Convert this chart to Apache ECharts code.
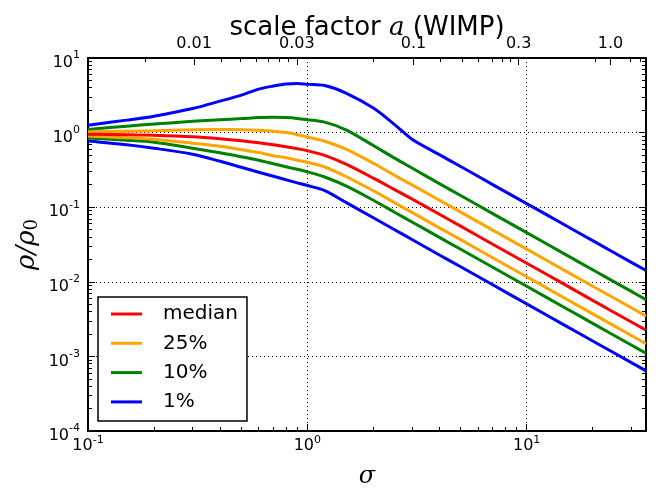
<!DOCTYPE html>
<html><head><meta charset="utf-8">
<script src="https://cdn.jsdelivr.net/npm/echarts@6/dist/echarts.min.js"></script>
<style>html,body{margin:0;padding:0;background:#fff}#c{width:663px;height:489px}</style>
</head><body><div id="c"></div>
<script>
// ---- data ----
const sigma = [0.1,0.15,0.2,0.3,0.4,0.5,0.6,0.7,0.8,0.9,1.0,1.2,1.5,2,2.5,3,4,5,7,10,15,20,30,35];
const medianVals   = [0.952,0.938,0.923,0.881,0.828,0.778,0.731,0.687,0.646,0.608,0.571,0.495,0.377,0.245,0.172,0.129,0.0803,0.0557,0.0319,0.01773,0.00909,0.00564,0.00289,0.00225];
const p25Upper     = [1.02,1.045,1.06,1.094,1.10,1.094,1.077,1.044,1.0,0.938,0.875,0.766,0.60,0.388,0.267,0.1995,0.124,0.086,0.0492,0.0274,0.0140,0.00873,0.00448,0.00348];
const p25Lower     = [0.903,0.854,0.815,0.721,0.656,0.589,0.54,0.49,0.46,0.426,0.40,0.346,0.258,0.166,0.1148,0.0851,0.0528,0.0367,0.0210,0.01167,0.00598,0.00372,0.00191,0.00148];
const p10Upper     = [1.10,1.22,1.30,1.42,1.49,1.54,1.59,1.60,1.59,1.55,1.49,1.38,1.09,0.67,0.455,0.335,0.207,0.1433,0.0821,0.0456,0.0233,0.0145,0.00743,0.00577];
const p10Lower     = [0.849,0.791,0.743,0.617,0.537,0.474,0.425,0.382,0.348,0.322,0.298,0.254,0.193,0.124,0.0857,0.0634,0.0394,0.0273,0.01567,0.0087,0.00446,0.00277,0.00142,0.0011];
const p1Upper      = [1.257,1.47,1.66,2.10,2.64,3.18,3.83,4.21,4.48,4.54,4.43,4.27,3.39,2.13,1.28,0.815,0.506,0.351,0.201,0.1117,0.0573,0.0356,0.01824,0.01416];
const p1Lower      = [0.773,0.687,0.617,0.513,0.413,0.343,0.294,0.26,0.233,0.212,0.195,0.167,0.116,0.0721,0.0499,0.0369,0.0229,0.0159,0.00912,0.00506,0.00259,0.00161,0.000826,0.00064];

const legendNames = ['median','25%','10%','1%'];
const sigmaMin = 0.1, sigmaMax = 35;
const rhoMinExp = -4, rhoMaxExp = 1;

// top axis (scale factor a) : labels and the sigma where each sits
const topTickLabels = ['0.01','0.03','0.1','0.3','1.0'];
const topTickSigma  = [0.3045,0.895,3.05,9.19,24.1];
const topMinorSigma = [0.182,0.407,0.493,0.582,0.665,0.746,0.820,2.003,4.03,5.07,6.03,6.95,7.72,8.42,20.6,29.7,33.0];
const minorMult = [2,3,4,5,6,7,8,9];

// ---- build ----
const L = Math.log10;
const xMin = L(sigmaMin), xMax = L(sigmaMax);
const xMinor = [];
for (let d = -1; d <= 1; d++) for (const m of minorMult) { const v = d + L(m); if (v > xMin && v < xMax) xMinor.push(v); }
const yMinor = [];
for (let d = rhoMinExp; d < rhoMaxExp; d++) for (const m of minorMult) yMinor.push(d + L(m));
const topMajor = topTickSigma.map(L);
const topMinor = topMinorSigma.map(L);

const pts = arr => sigma.map((s, i) => [L(s), L(arr[i])]);
const COLORS = { 'median': '#ff0000', '25%': '#ffa500', '10%': '#008000', '1%': '#0000ff' };
const mk = (name, arr) => ({
  name, type: 'line', data: pts(arr), showSymbol: false, smooth: 0.3,
  xAxisIndex: 0, yAxisIndex: 0, color: COLORS[name],
  lineStyle: { width: 3, color: COLORS[name] }, emphasis: { disabled: true }
});

const supRich = (bPad, sPad) => ({
  b: { fontSize: 16, fontFamily: 'DejaVu Sans', color: '#000', padding: [bPad, 0, 0, 0] },
  s: { fontSize: 11, fontFamily: 'DejaVu Sans', color: '#000', padding: [0, 0, sPad, 0] }
});
const expFmt = v => Math.abs(v - Math.round(v)) < 1e-6 ? '{b|10}{s|' + Math.round(v) + '}' : '';

const black = '#000';
const minorAxisCommon = {
  type: 'value', axisLine: { show: false, onZero: false }, axisLabel: { show: false },
  splitLine: { show: false }
};

const option = {
  animation: false,
  backgroundColor: '#fff',
  grid: { left: 88, right: 17, top: 58, bottom: 58, containLabel: false, outerBoundsMode: 'none' },
  legend: {
    data: legendNames, orient: 'vertical', left: 98, top: 297,
    padding: [7, 9, 9, 13], itemGap: 9.3, itemWidth: 31, itemHeight: 3, icon: 'rect',
    borderColor: black, borderWidth: 1.5, backgroundColor: '#fff', borderRadius: 0,
    textStyle: { fontSize: 20, fontFamily: 'DejaVu Sans', color: black, lineHeight: 20, padding: [0, 0, 0, 16] },
    selectedMode: false
  },
  xAxis: [
    { type: 'value', position: 'bottom', min: xMin, max: xMax, interval: 1,
      axisLine: { show: true, onZero: false, lineStyle: { color: black, width: 2 } },
      axisTick: { show: true, inside: true, length: 7, lineStyle: { color: black, width: 1 } },
      axisLabel: { formatter: expFmt, margin: 1, rich: supRich(6, 5), showMaxLabel: false },
      splitLine: { show: true, lineStyle: { type: [1, 3], color: black, width: 1 } },
      name: 'σ', nameLocation: 'middle', nameGap: 34, nameMoveOverlap: false,
      nameTextStyle: { fontFamily: 'DejaVu Serif', fontStyle: 'italic', fontSize: 24, color: black } },
    Object.assign({}, minorAxisCommon, { position: 'bottom', min: xMin, max: xMax,
      axisTick: { show: true, inside: true, length: 4, customValues: xMinor, lineStyle: { color: black, width: 1 } } }),
    { type: 'value', position: 'top', min: xMin, max: xMax,
      axisLine: { show: true, onZero: false, lineStyle: { color: black, width: 2 } },
      axisTick: { show: true, inside: true, length: 7, customValues: topMajor, lineStyle: { color: black, width: 1 } },
      axisLabel: { customValues: topMajor, margin: 6, fontSize: 16, fontFamily: 'DejaVu Sans', color: black,
        formatter: v => { let bi = 0, bd = 1e9; topMajor.forEach((t, i) => { const d = Math.abs(t - v); if (d < bd) { bd = d; bi = i; } }); return topTickLabels[bi]; } },
      splitLine: { show: false },
      name: '{n|scale factor }{i|a}{n| (WIMP)}', nameLocation: 'middle', nameGap: 17, nameMoveOverlap: false,
      nameTextStyle: { rich: {
        n: { fontSize: 26, fontFamily: 'DejaVu Sans', color: black },
        i: { fontSize: 26, fontFamily: 'DejaVu Serif', fontStyle: 'italic', color: black } } } },
    Object.assign({}, minorAxisCommon, { position: 'top', min: xMin, max: xMax,
      axisTick: { show: true, inside: true, length: 4, customValues: topMinor, lineStyle: { color: black, width: 1 } } })
  ],
  yAxis: [
    { type: 'value', position: 'left', min: rhoMinExp, max: rhoMaxExp, interval: 1,
      axisLine: { show: true, onZero: false, lineStyle: { color: black, width: 2 } },
      axisTick: { show: true, inside: true, length: 7, lineStyle: { color: black, width: 1 } },
      axisLabel: { formatter: expFmt, margin: 8, rich: supRich(10, 5) },
      splitLine: { show: true, lineStyle: { type: [1, 3], color: black, width: 1 } },
      name: '{i|ρ/ρ}{s|0}', nameLocation: 'middle', nameGap: 47, nameRotate: 90, nameMoveOverlap: false,
      nameTextStyle: { rich: {
        i: { fontSize: 26, fontFamily: 'DejaVu Serif', fontStyle: 'italic', color: black },
        s: { fontSize: 18, fontFamily: 'DejaVu Serif', color: black, padding: [10, 0, 0, 0] } } } },
    Object.assign({}, minorAxisCommon, { position: 'left', min: rhoMinExp, max: rhoMaxExp,
      axisTick: { show: true, inside: true, length: 4, customValues: yMinor, lineStyle: { color: black, width: 1 } } }),
    { type: 'value', position: 'right', min: rhoMinExp, max: rhoMaxExp, interval: 1,
      axisLine: { show: true, onZero: false, lineStyle: { color: black, width: 2 } },
      axisTick: { show: true, inside: true, length: 7, lineStyle: { color: black, width: 1 } },
      axisLabel: { show: false }, splitLine: { show: false } },
    Object.assign({}, minorAxisCommon, { position: 'right', min: rhoMinExp, max: rhoMaxExp,
      axisTick: { show: true, inside: true, length: 4, customValues: yMinor, lineStyle: { color: black, width: 1 } } })
  ],
  series: [
    mk('1%', p1Upper), mk('1%', p1Lower),
    mk('10%', p10Upper), mk('10%', p10Lower),
    mk('25%', p25Upper), mk('25%', p25Lower),
    mk('median', medianVals)
  ]
};
echarts.init(document.getElementById('c'), null, { renderer: 'canvas' }).setOption(option);
</script>
</body></html>
